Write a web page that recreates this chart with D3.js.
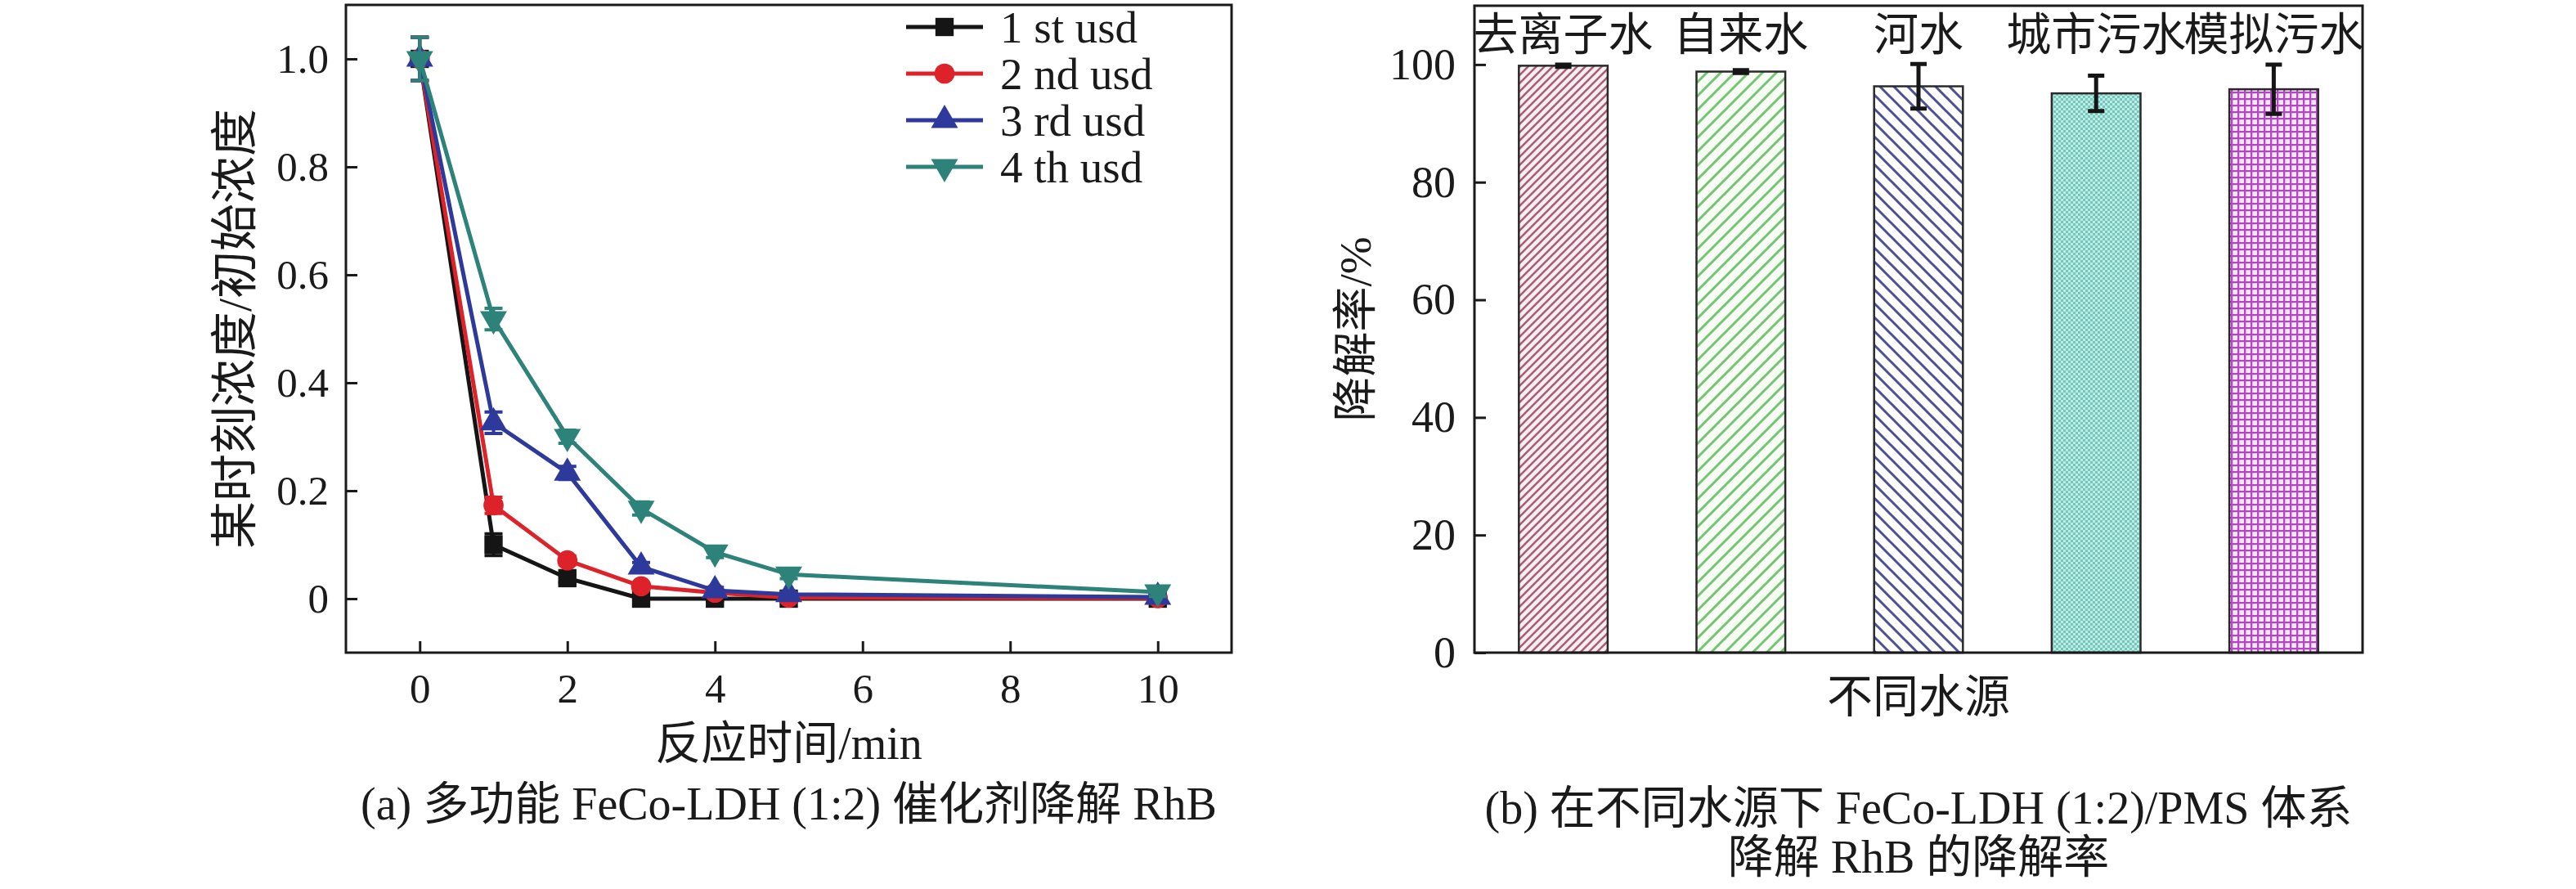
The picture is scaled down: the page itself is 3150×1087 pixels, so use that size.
<!DOCTYPE html>
<html>
<head>
<meta charset="utf-8">
<script src="https://cdn.jsdelivr.net/npm/d3@7"></script>
<style>
  body { margin: 0; background: #fff; }
  svg text { font-family: "Liberation Serif", "Noto Sans CJK SC", serif; fill: #1a1a1a; }
</style>
</head>
<body>
<div id="chart"></div>
<script>
// ---- data, panel (a) ----
const reactionTime = [0, 1, 2, 3, 4, 5, 10];
const useNames = ["1 st usd", "2 nd usd", "3 rd usd", "4 th usd"];
const use1 = [1.0, 0.100, 0.038, 0.000, 0.000, 0.000, 0.000];
const use2 = [1.0, 0.173, 0.071, 0.023, 0.011, 0.002, 0.001];
const use3 = [1.0, 0.326, 0.233, 0.059, 0.015, 0.008, 0.003];
const use4 = [1.0, 0.518, 0.300, 0.167, 0.086, 0.045, 0.012];
const err1 = [0.04, 0.02, 0.008, 0.004, 0.004, 0.004, 0.004];
const err2 = [0.04, 0.015, 0.008, 0.004, 0.004, 0.004, 0.004];
const err3 = [0.04, 0.02, 0.012, 0.008, 0.006, 0.004, 0.004];
const err4 = [0.04, 0.02, 0.012, 0.012, 0.01, 0.008, 0.008];
const xTicksA = [0, 2, 4, 6, 8, 10];
const yTicksA = [0, 0.2, 0.4, 0.6, 0.8, 1.0];
const yTickLabelsA = ["0", "0.2", "0.4", "0.6", "0.8", "1.0"];

// ---- data, panel (b) ----
const waterSources = ["去离子水", "自来水", "河水", "城市污水", "模拟污水"];
const degradation = [99.8, 98.8, 96.3, 95.1, 95.8];
const degradationErr = [0.2, 0.25, 3.8, 3.0, 4.2];
const yTicksB = [0, 20, 40, 60, 80, 100];

const svg = d3.select("#chart").append("svg")
  .attr("width", 3150)
  .attr("height", 1087);

const defs = svg.append("defs");

// hatch fills for the bars
function linePattern(id, w, bg, color, sw, dir) {
  const p = defs.append("pattern")
    .attr("id", id)
    .attr("patternUnits", "userSpaceOnUse")
    .attr("width", w).attr("height", w);
  p.append("rect").attr("width", w).attr("height", w).attr("fill", bg);
  const d = dir === "/"
    ? `M0,${w} L${w},0 M${-w/2},${w/2} L${w/2},${-w/2} M${w/2},${w*1.5} L${w*1.5},${w/2}`
    : `M0,0 L${w},${w} M${-w/2},${w/2} L${w/2},${w*1.5} M${w/2},${-w/2} L${w*1.5},${w/2}`;
  p.append("path").attr("d", d).attr("stroke", color).attr("stroke-width", sw);
}
linePattern("pat0", 10, "#fbeef1", "#a55e7a", 2.6, "/");
linePattern("pat1", 17, "#f7fcf5", "#74c474", 3, "/");
linePattern("pat2", 17, "#ffffff", "#4b4f95", 3, "\\");

const p3 = defs.append("pattern").attr("id", "pat3")
  .attr("patternUnits", "userSpaceOnUse").attr("width", 6).attr("height", 6);
p3.append("rect").attr("width", 6).attr("height", 6).attr("fill", "#c0eae4");
p3.append("rect").attr("width", 3).attr("height", 3).attr("fill", "#72c8bd");
p3.append("rect").attr("x", 3).attr("y", 3).attr("width", 3).attr("height", 3).attr("fill", "#72c8bd");

const p4 = defs.append("pattern").attr("id", "pat4")
  .attr("patternUnits", "userSpaceOnUse").attr("width", 8).attr("height", 8);
p4.append("rect").attr("width", 8).attr("height", 8).attr("fill", "#f8e6f8");
p4.append("path").attr("d", "M0,1 H8 M1,0 V8").attr("stroke", "#b148c2").attr("stroke-width", 2.6);

// ================= panel (a) =================
const A = {left: 423, right: 1506, top: 6, bottom: 798};
const x = d3.scaleLinear().domain([-1, 11]).range([A.left, A.right]);
const y = d3.scaleLinear().domain([-0.1, 1.1]).range([A.bottom, A.top]);

const gA = svg.append("g");

gA.append("g")
  .attr("transform", `translate(0,${A.bottom})`)
  .call(d3.axisBottom(x).tickValues(xTicksA).tickSize(-14).tickPadding(25).tickFormat(d3.format("d")))
  .call(g => g.select(".domain").remove())
  .call(g => g.selectAll("line").attr("stroke", "#1a1a1a").attr("stroke-width", 3))
  .call(g => g.selectAll("text").style("font-size", "51px"));

gA.append("g")
  .attr("transform", `translate(${A.left},0)`)
  .call(d3.axisLeft(y).tickValues(yTicksA).tickSize(-14).tickPadding(21)
    .tickFormat((d, i) => yTickLabelsA[i]))
  .call(g => g.select(".domain").remove())
  .call(g => g.selectAll("line").attr("stroke", "#1a1a1a").attr("stroke-width", 3))
  .call(g => g.selectAll("text").style("font-size", "51px"));

gA.append("rect")
  .attr("x", A.left).attr("y", A.top)
  .attr("width", A.right - A.left).attr("height", A.bottom - A.top)
  .attr("fill", "none").attr("stroke", "#1a1a1a").attr("stroke-width", 3);

const series = [
  {name: useNames[0], values: use1, err: err1, color: "#151515", symbol: d3.symbolSquare, size: 500, rot: 0},
  {name: useNames[1], values: use2, err: err2, color: "#de2229", symbol: d3.symbolCircle, size: 480, rot: 0},
  {name: useNames[2], values: use3, err: err3, color: "#2d3a9c", symbol: d3.symbolTriangle, size: 470, rot: 0},
  {name: useNames[3], values: use4, err: err4, color: "#2d8279", symbol: d3.symbolTriangle, size: 470, rot: 180}
];

const line = d3.line().x(d => x(d.t)).y(d => y(d.v));

series.forEach(s => {
  const pts = reactionTime.map((t, i) => ({t: t, v: s.values[i], e: s.err[i]}));
  const g = gA.append("g");
  g.append("path").datum(pts)
    .attr("fill", "none").attr("stroke", s.color).attr("stroke-width", 5)
    .attr("d", line);
  // error bars
  g.selectAll(".eb").data(pts).join("path")
    .attr("fill", "none").attr("stroke", s.color).attr("stroke-width", 4)
    .attr("d", d => {
      const cx = x(d.t), y1 = y(d.v + d.e), y2 = y(d.v - d.e);
      return `M${cx - 11},${y1} H${cx + 11} M${cx},${y1} V${y2} M${cx - 11},${y2} H${cx + 11}`;
    });
  g.selectAll(".mk").data(pts).join("path")
    .attr("transform", d => `translate(${x(d.t)},${y(d.v)}) rotate(${s.rot})`)
    .attr("d", d3.symbol().type(s.symbol).size(s.size))
    .attr("fill", s.color);
});

// legend
const legend = gA.append("g");
series.forEach((s, i) => {
  const ly = 33 + i * 57;
  legend.append("line")
    .attr("x1", 1108).attr("x2", 1202).attr("y1", ly).attr("y2", ly)
    .attr("stroke", s.color).attr("stroke-width", 5);
  legend.append("path")
    .attr("transform", `translate(1155,${ly}) rotate(${s.rot})`)
    .attr("d", d3.symbol().type(s.symbol).size(s.size))
    .attr("fill", s.color);
  legend.append("text")
    .attr("x", 1223).attr("y", ly)
    .attr("dominant-baseline", "central")
    .style("font-size", "55px")
    .text(s.name);
});

gA.append("text")
  .attr("x", (A.left + A.right) / 2).attr("y", 928)
  .attr("text-anchor", "middle")
  .style("font-size", "56px")
  .text("反应时间/min");

gA.append("text")
  .attr("transform", `translate(287,${(A.top + A.bottom) / 2}) rotate(-90)`)
  .attr("text-anchor", "middle")
  .attr("dominant-baseline", "central")
  .style("font-size", "58px")
  .text("某时刻浓度/初始浓度");

gA.append("text")
  .attr("x", (A.left + A.right) / 2).attr("y", 1002)
  .attr("text-anchor", "middle")
  .style("font-size", "56px")
  .text("(a) 多功能 FeCo-LDH (1:2) 催化剂降解 RhB");

// ================= panel (b) =================
const B = {left: 1803, right: 2889, top: 7, bottom: 798};
const xb = d3.scaleBand().domain(waterSources).range([B.left, B.right])
  .paddingInner(0.5).paddingOuter(0.25);
const yb = d3.scaleLinear().domain([0, 110]).range([B.bottom, B.top]);

const gB = svg.append("g");

gB.selectAll(".bar").data(waterSources).join("rect")
  .attr("x", d => xb(d))
  .attr("y", (d, i) => yb(degradation[i]))
  .attr("width", xb.bandwidth())
  .attr("height", (d, i) => yb(0) - yb(degradation[i]))
  .attr("fill", (d, i) => `url(#pat${i})`)
  .attr("stroke", "#2a2a2a").attr("stroke-width", 2.5);

gB.selectAll(".err").data(waterSources).join("path")
  .attr("fill", "none").attr("stroke", "#151515").attr("stroke-width", 5)
  .attr("d", (d, i) => {
    const cx = xb(d) + xb.bandwidth() / 2;
    const y1 = yb(degradation[i] + degradationErr[i]), y2 = yb(degradation[i] - degradationErr[i]);
    return `M${cx - 10},${y1} H${cx + 10} M${cx},${y1} V${y2} M${cx - 10},${y2} H${cx + 10}`;
  });

gB.selectAll(".cat").data(waterSources).join("text")
  .attr("x", d => xb(d) + xb.bandwidth() / 2)
  .attr("y", 42)
  .attr("text-anchor", "middle")
  .attr("dominant-baseline", "central")
  .style("font-size", "55px")
  .text(d => d);

gB.append("g")
  .attr("transform", `translate(${B.left},0)`)
  .call(d3.axisLeft(yb).tickValues(yTicksB).tickSize(-14).tickPadding(23).tickFormat(d3.format("d")))
  .call(g => g.select(".domain").remove())
  .call(g => g.selectAll("line").attr("stroke", "#1a1a1a").attr("stroke-width", 3))
  .call(g => g.selectAll("text").style("font-size", "54px"));

gB.append("rect")
  .attr("x", B.left).attr("y", B.top)
  .attr("width", B.right - B.left).attr("height", B.bottom - B.top)
  .attr("fill", "none").attr("stroke", "#1a1a1a").attr("stroke-width", 3);

gB.append("text")
  .attr("transform", `translate(1657,${(B.top + B.bottom) / 2}) rotate(-90)`)
  .attr("text-anchor", "middle")
  .attr("dominant-baseline", "central")
  .style("font-size", "55px")
  .text("降解率/%");

gB.append("text")
  .attr("x", (B.left + B.right) / 2).attr("y", 852)
  .attr("text-anchor", "middle")
  .attr("dominant-baseline", "central")
  .style("font-size", "56px")
  .text("不同水源");

gB.append("text")
  .attr("x", (B.left + B.right) / 2).attr("y", 988)
  .attr("text-anchor", "middle")
  .attr("dominant-baseline", "central")
  .style("font-size", "56px")
  .text("(b) 在不同水源下 FeCo-LDH (1:2)/PMS 体系");

gB.append("text")
  .attr("x", (B.left + B.right) / 2).attr("y", 1048)
  .attr("text-anchor", "middle")
  .attr("dominant-baseline", "central")
  .style("font-size", "56px")
  .text("降解 RhB 的降解率");
</script>
</body>
</html>
